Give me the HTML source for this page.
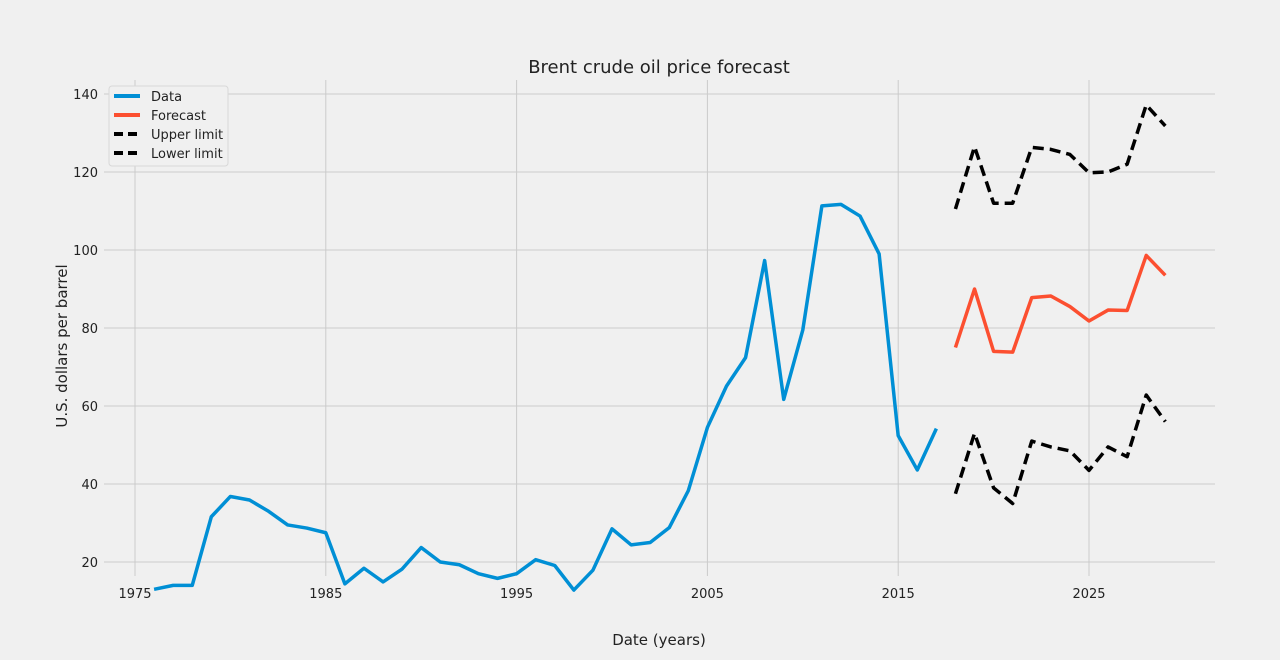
<!DOCTYPE html>
<html><head><meta charset="utf-8"><style>
body{margin:0;background:#f0f0f0;}
svg{display:block;font-family:"DejaVu Sans","Liberation Sans",sans-serif;}
</style></head><body>
<svg id="chart" width="1280" height="660" viewBox="0 0 1280 660">
<rect width="1280" height="660" fill="#f0f0f0"/>
<g id="grid"></g>
<g id="series"></g>
<text x="659" y="73" font-size="18" text-anchor="middle" fill="#222">Brent crude oil price forecast</text>
<text x="659" y="645" font-size="15" text-anchor="middle" fill="#222">Date (years)</text>
<text transform="translate(67,346) rotate(-90)" font-size="15" text-anchor="middle" fill="#222">U.S. dollars per barrel</text>
<g>
<rect x="109" y="86" width="119" height="80" rx="3" fill="#f0f0f0" stroke="#d8d8d8"/>
<g><line x1="114" y1="96" x2="140" y2="96" stroke="#008fd5" stroke-width="4"/><text x="151" y="101" font-size="13" fill="#222">Data</text></g>
<g><line x1="114" y1="115" x2="140" y2="115" stroke="#fc4f30" stroke-width="4"/><text x="151" y="120" font-size="13" fill="#222">Forecast</text></g>
<g><line x1="114" y1="134" x2="140" y2="134" stroke="#000" stroke-width="4" stroke-dasharray="9,5"/><text x="151" y="139" font-size="13" fill="#222">Upper limit</text></g>
<g><line x1="114" y1="153" x2="140" y2="153" stroke="#000" stroke-width="4" stroke-dasharray="9,5"/><text x="151" y="158" font-size="13" fill="#222">Lower limit</text></g>
</g>
</svg>
<script>
const dataYears=[1976,1977,1978,1979,1980,1981,1982,1983,1984,1985,1986,1987,1988,1989,1990,1991,1992,1993,1994,1995,1996,1997,1998,1999,2000,2001,2002,2003,2004,2005,2006,2007,2008,2009,2010,2011,2012,2013,2014,2015,2016,2017];
const dataValues=[13,14,14,31.6,36.8,35.9,33,29.5,28.7,27.5,14.4,18.4,14.9,18.2,23.7,20,19.3,17,15.8,17,20.6,19.1,12.8,17.9,28.5,24.4,25,28.8,38.3,54.5,65.1,72.4,97.3,61.7,79.5,111.3,111.7,108.7,99,52.4,43.6,54.2];
const forecastYears=[2018,2019,2020,2021,2022,2023,2024,2025,2026,2027,2028,2029];
const forecastValues=[75,90,74,73.8,87.8,88.2,85.5,81.8,84.6,84.5,98.6,93.5];
const upperValues=[110.5,126.5,112,112,126.3,125.8,124.5,119.8,120,122,137.2,131.8];
const lowerValues=[37.5,53,39,35,51,49.5,48.5,43.5,49.5,47,62.8,56];
const xTicks=[1975,1985,1995,2005,2015,2025];
const yTicks=[20,40,60,80,100,120,140];
const NS="http://www.w3.org/2000/svg";
const xs=y=>135+(y-1975)*(1089-135)/50;
const ys=v=>562-(v-20)*(562-94)/120;
const grid=document.getElementById('grid'),ser=document.getElementById('series');
function mk(tag,attrs,parent){const e=document.createElementNS(NS,tag);for(const k in attrs)e.setAttribute(k,attrs[k]);parent.appendChild(e);return e;}
xTicks.forEach(t=>{
 const l=mk('line',{x1:xs(t),x2:xs(t),y1:80,y2:576,stroke:'#cbcbcb','stroke-width':1},grid);
 
 
 const tx=mk('text',{x:xs(t),y:598,'font-size':13,'text-anchor':'middle',fill:'#222'},grid);
 tx.textContent=t;
 
 
});
yTicks.forEach(t=>{
 const l=mk('line',{x1:104,x2:1215,y1:ys(t),y2:ys(t),stroke:'#cbcbcb','stroke-width':1},grid);
 
 
 const tx=mk('text',{x:98,y:ys(t)+5,'font-size':13,'text-anchor':'end',fill:'#222'},grid);
 tx.textContent=t;
 
 
});
function line(years,vals,color,dash,name){
 const p=mk('polyline',{points:years.map((y,i)=>xs(y)+','+ys(vals[i])).join(' '),fill:'none',stroke:color,'stroke-width':3.5,'stroke-linejoin':'round'},ser);
 if(dash)p.setAttribute('stroke-dasharray',dash);
 
 
}
line(dataYears,dataValues,'#008fd5',null,'data-line');
line(forecastYears,forecastValues,'#fc4f30',null,'forecast-line');
line(forecastYears,upperValues,'#000','11,6','upper-limit-line');
line(forecastYears,lowerValues,'#000','11,6','lower-limit-line');
</script>
</body></html>
